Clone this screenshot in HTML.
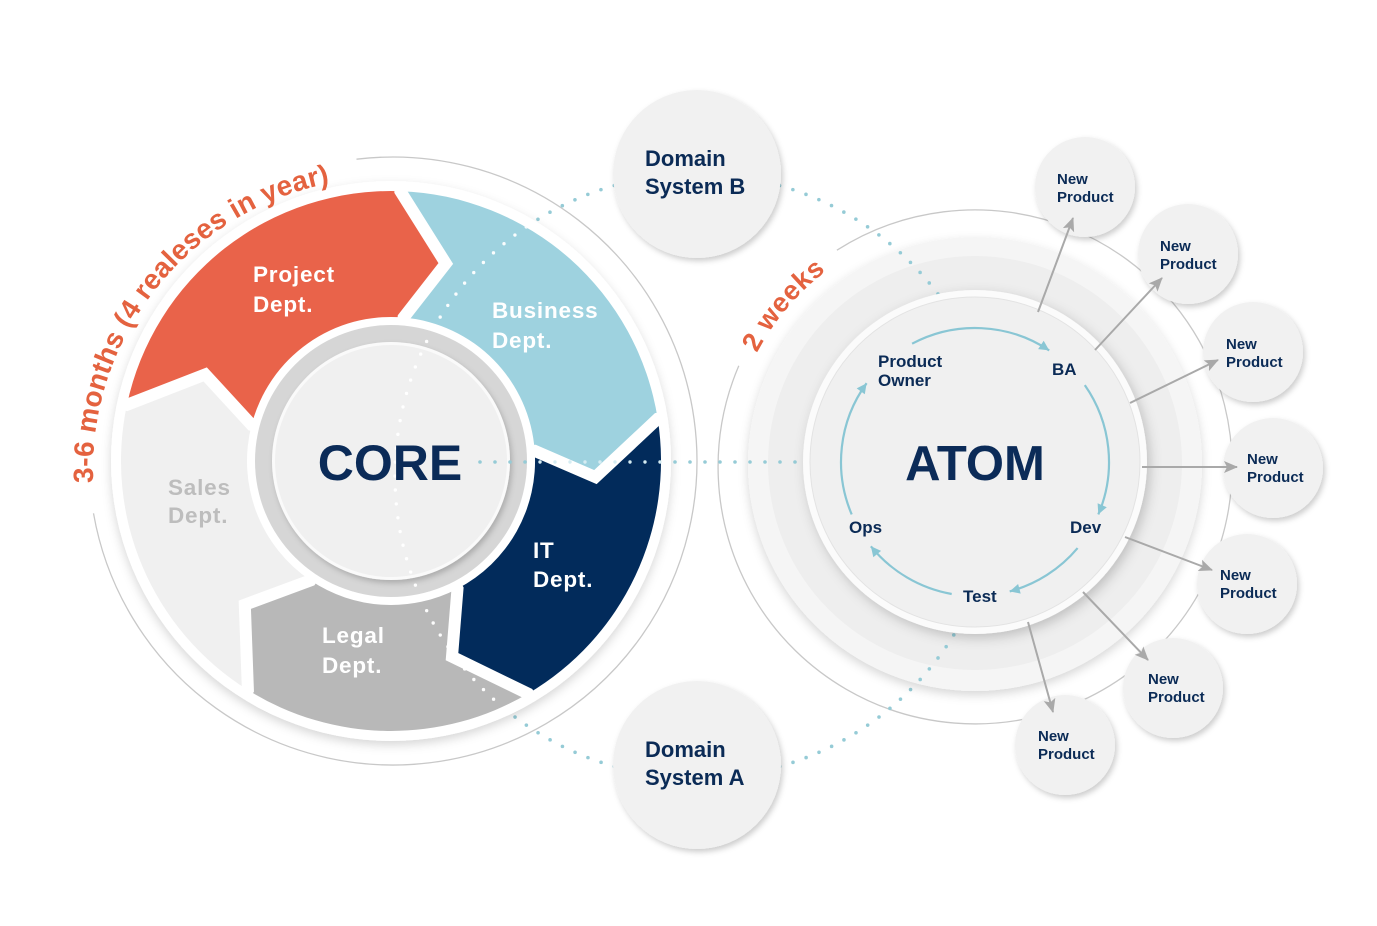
<!DOCTYPE html>
<html>
<head>
<meta charset="utf-8">
<style>
  html,body{margin:0;padding:0;background:#fff;}
  svg{display:block;}
  text{font-family:"Liberation Sans",Arial,sans-serif;font-weight:700;}
</style>
</head>
<body>
<svg width="1377" height="926" viewBox="0 0 1377 926" xmlns="http://www.w3.org/2000/svg">
<defs>
  <filter id="s1" x="-30%" y="-30%" width="160%" height="160%">
    <feDropShadow dx="0" dy="4" stdDeviation="5" flood-color="#000" flood-opacity="0.16"/>
  </filter>
  <filter id="s2" x="-30%" y="-30%" width="160%" height="160%">
    <feDropShadow dx="2" dy="3" stdDeviation="3" flood-color="#000" flood-opacity="0.2"/>
  </filter>
  <filter id="s3" x="-30%" y="-30%" width="160%" height="160%">
    <feDropShadow dx="3" dy="4" stdDeviation="6" flood-color="#000" flood-opacity="0.2"/>
  </filter>
  <clipPath id="clL"><circle cx="391" cy="461" r="270"/></clipPath>
  <clipPath id="clR"><circle cx="975" cy="464" r="227"/></clipPath>
  <marker id="ah" markerUnits="userSpaceOnUse" markerWidth="14" markerHeight="14" viewBox="0 0 14 14" refX="13" refY="7" orient="auto">
    <path d="M0,1 L14,7 L0,13 L3,7 Z" fill="#a9a9a9"/>
  </marker>
  <path id="tp1" d="M97.4,520.7 A292,292 0 0 1 395.2,178.2" fill="none"/>
  <path id="tp2" d="M743.8,382.9 A246,246 0 0 1 871.0,244.0" fill="none"/>
</defs>

<rect width="1377" height="926" fill="#fff"/>

<!-- thin outer circles -->
<path d="M356.5,159.2 A304,304 0 1 1 93.5,513.3" fill="none" stroke="#c8c8c8" stroke-width="1.3"/>
<path d="M836.9,250.2 A257,257 0 1 1 738.8,365.8" fill="none" stroke="#c8c8c8" stroke-width="1.3"/>

<!-- dotted arc (blue) -->
<circle cx="697" cy="476" r="302" fill="none" stroke="#95cbd6" stroke-width="3.6" stroke-linecap="round" stroke-dasharray="0 13.95"/>

<!-- LEFT: white base disc -->
<circle cx="391" cy="461" r="280" fill="#fff" filter="url(#s1)"/>

<!-- segments -->
<path d="M126.9,404.9 A270,270 0 0 1 400.4,191.2 L445.8,263.5 L403.6,317.5 A144,144 0 0 0 251.6,424.9 L205.2,374.4 Z" fill="#e9634a"/>
<path d="M400.4,191.2 A270,270 0 0 1 657.7,418.8 L595.4,477.1 L534.7,450.9 A144,144 0 0 0 403.6,317.5 L445.8,263.5 Z" fill="#9ed2df"/>
<path d="M657.7,418.8 A270,270 0 0 1 528.0,693.6 L452.0,656.7 L457.5,588.7 A144,144 0 0 0 534.7,450.9 L595.4,477.1 Z" fill="#022b5b"/>
<path d="M528.0,693.6 A270,270 0 0 1 247.9,690.0 L244.8,604.7 L310.5,580.4 A144,144 0 0 0 457.5,588.7 L452.0,656.7 Z" fill="#b8b8b8"/>
<path d="M247.9,690.0 A270,270 0 0 1 126.9,404.9 L205.2,374.4 L251.6,424.9 A144,144 0 0 0 310.5,580.4 L244.8,604.7 Z" fill="#f0f0f0"/>

<!-- white gaps -->
<g fill="none" stroke="#fff" stroke-width="12" stroke-linejoin="miter">
  <polyline points="118.1,403.0 126.9,404.9 205.2,374.4 251.6,424.9 270.0,429.7"/>
  <polyline points="400.7,182.2 400.4,191.2 445.8,263.5 403.6,317.5 401.9,336.5"/>
  <polyline points="666.6,417.4 657.7,418.8 595.4,477.1 534.7,450.9 515.7,452.3"/>
  <polyline points="532.6,701.4 528.0,693.6 452.0,656.7 457.5,588.7 448.7,571.9"/>
  <polyline points="243.2,697.6 247.9,690.0 244.8,604.7 310.5,580.4 321.1,564.6"/>
</g>

<!-- core -->
<circle cx="391" cy="461" r="136" fill="#d6d6d6"/>
<circle cx="391" cy="461" r="119" fill="#fafafa" filter="url(#s2)"/>
<circle cx="391" cy="461" r="116" fill="#f0f0f0"/>

<!-- white dotted overlay in left ring -->
<g clip-path="url(#clL)">
  <circle cx="697" cy="476" r="302" fill="none" stroke="#ffffff" stroke-width="3.4" stroke-linecap="round" stroke-dasharray="0 13.95" opacity="0.95"/>
</g>
<line x1="540" y1="462" x2="661" y2="462" stroke="#d5ecf2" stroke-width="3.4" stroke-linecap="round" stroke-dasharray="0 15"/>
<line x1="480" y1="462" x2="526" y2="462" stroke="#95cbd6" stroke-width="3.6" stroke-linecap="round" stroke-dasharray="0 15"/>

<!-- segment labels -->
<g font-size="22.5" letter-spacing="0.8" fill="#ffffff">
  <text x="253" y="282">Project</text><text x="253" y="312">Dept.</text>
  <text x="492" y="318">Business</text><text x="492" y="348">Dept.</text>
  <text x="533" y="558">IT</text><text x="533" y="587">Dept.</text>
  <text x="322" y="643">Legal</text><text x="322" y="673">Dept.</text>
  <text x="168" y="495" fill="#bdbdbd">Sales</text><text x="168" y="523" fill="#bdbdbd">Dept.</text>
</g>
<text x="390" y="480" font-size="50" fill="#0b2b58" text-anchor="middle">CORE</text>

<!-- RIGHT: ATOM discs -->
<circle cx="975" cy="464" r="227" fill="#f5f5f5" filter="url(#s1)"/>
<circle cx="975" cy="463" r="207" fill="#eeeeee"/>
<g clip-path="url(#clR)">
  <circle cx="697" cy="476" r="302" fill="none" stroke="#95cbd6" stroke-width="3.6" stroke-linecap="round" stroke-dasharray="0 13.95"/>
</g>
<line x1="675" y1="462" x2="796" y2="462" stroke="#95cbd6" stroke-width="3.6" stroke-linecap="round" stroke-dasharray="0 15"/>
<circle cx="975" cy="462" r="172" fill="#fbfbfb" filter="url(#s3)"/>
<circle cx="975" cy="462" r="165" fill="#f0f0f0" stroke="#e3e3e3" stroke-width="1"/>

<!-- cycle arrows -->
<g fill="none" stroke="#89c6d4" stroke-width="2.2">
  <path d="M912.1,343.7 A134,134 0 0 1 1049.2,350.4"/>
  <path d="M1084.8,385.1 A134,134 0 0 1 1098.3,514.4"/>
  <path d="M1077.6,548.1 A134,134 0 0 1 1009.7,591.4"/>
  <path d="M951.7,594.0 A134,134 0 0 1 870.9,546.3"/>
  <path d="M851.7,514.4 A134,134 0 0 1 866.6,383.2"/>
</g>
<g fill="#89c6d4">
  <polygon points="1049.2,350.4 1038.1,349.1 1043.7,340.7"/>
  <polygon points="1098.3,514.4 1097.6,503.2 1106.8,507.2"/>
  <polygon points="1009.7,591.4 1018.1,584.0 1020.7,593.6"/>
  <polygon points="870.9,546.3 881.1,550.9 873.3,557.2"/>
  <polygon points="866.6,383.2 864.8,394.2 856.7,388.4"/>
</g>
<g font-size="17" fill="#0b2b56">
  <text x="878" y="367">Product</text><text x="878" y="386">Owner</text>
  <text x="1052" y="375">BA</text>
  <text x="1070" y="533">Dev</text>
  <text x="963" y="602">Test</text>
  <text x="849" y="533">Ops</text>
</g>
<text x="975" y="480" font-size="49" fill="#0b2b58" text-anchor="middle">ATOM</text>

<!-- curved orange labels -->
<text font-size="28" fill="#e4623f" letter-spacing="0.2"><textPath href="#tp1" startOffset="38.2">3-6 months (4 realeses in year)</textPath></text>
<text font-size="27" fill="#e4623f" letter-spacing="0.7"><textPath href="#tp2" startOffset="32.6">2 weeks</textPath></text>

<!-- Domain systems -->
<circle cx="697" cy="174" r="84" fill="#f1f1f1" filter="url(#s2)"/>
<circle cx="697" cy="765" r="84" fill="#f1f1f1" filter="url(#s2)"/>
<g font-size="22" fill="#0b2b56">
  <text x="645" y="166">Domain</text><text x="645" y="194">System B</text>
  <text x="645" y="757">Domain</text><text x="645" y="785">System A</text>
</g>

<!-- New Product circles -->
<g fill="#f1f1f1" filter="url(#s2)">
  <circle cx="1085" cy="187" r="50"/>
  <circle cx="1188" cy="254" r="50"/>
  <circle cx="1253" cy="352" r="50"/>
  <circle cx="1273" cy="468" r="50"/>
  <circle cx="1247" cy="584" r="50"/>
  <circle cx="1173" cy="688" r="50"/>
  <circle cx="1065" cy="745" r="50"/>
</g>
<g font-size="15" fill="#0b2b56">
  <text x="1057" y="184">New</text><text x="1057" y="202">Product</text>
  <text x="1160" y="251">New</text><text x="1160" y="269">Product</text>
  <text x="1226" y="349">New</text><text x="1226" y="367">Product</text>
  <text x="1247" y="464">New</text><text x="1247" y="482">Product</text>
  <text x="1220" y="580">New</text><text x="1220" y="598">Product</text>
  <text x="1148" y="684">New</text><text x="1148" y="702">Product</text>
  <text x="1038" y="741">New</text><text x="1038" y="759">Product</text>
</g>

<!-- arrows to New Product -->
<g stroke="#a9a9a9" stroke-width="2" fill="none" marker-end="url(#ah)">
  <line x1="1038" y1="312" x2="1073" y2="218"/>
  <line x1="1095" y1="350" x2="1162" y2="278"/>
  <line x1="1130" y1="403" x2="1218" y2="360"/>
  <line x1="1142" y1="467" x2="1237" y2="467"/>
  <line x1="1125" y1="537" x2="1212" y2="570"/>
  <line x1="1083" y1="592" x2="1148" y2="660"/>
  <line x1="1028" y1="622" x2="1053" y2="712"/>
</g>
</svg>
</body>
</html>
